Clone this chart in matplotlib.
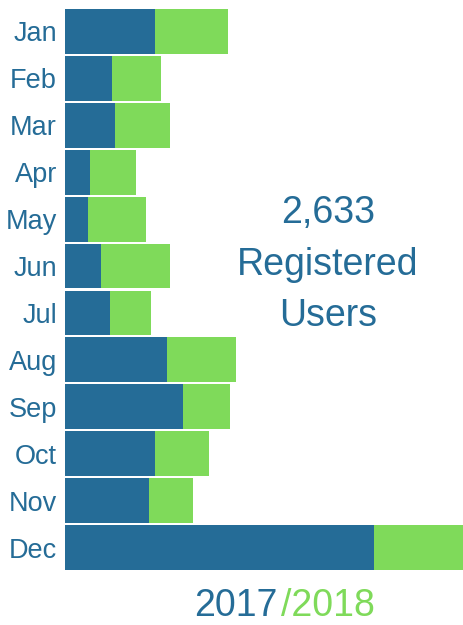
import matplotlib as mpl
mpl.use('Agg')
import matplotlib.pyplot as plt

# registered users per month
months = ['Jan', 'Feb', 'Mar', 'Apr', 'May', 'Jun',
          'Jul', 'Aug', 'Sep', 'Oct', 'Nov', 'Dec']
users_2017 = [139, 72, 77, 38, 35, 55, 69, 156, 182, 138, 129, 475]
users_2018 = [112, 75, 84, 71, 89, 107, 63, 106, 72, 84, 67, 138]

blue = '#256c97'
green = '#7fda5a'
font = ['Liberation Sans', 'DejaVu Sans']

W, H = 464, 625
fig = plt.figure(figsize=(W / 100, H / 100), dpi=100)
# axes spans the bar area in pixels: x 65..464, y 9..570
ax = fig.add_axes([65 / W, 1 - 570 / H, (464 - 65) / W, (570 - 9) / H])

bar_h = 0.955
ypos = list(range(len(months)))
ax.barh(ypos, users_2017, height=bar_h, color=blue, linewidth=0)
ax.barh(ypos, users_2018, left=users_2017, height=bar_h, color=green,
        linewidth=0)

ax.set_xlim(0, 613)
ax.set_ylim(len(months) - 1 + bar_h / 2, -bar_h / 2)
ax.axis('off')

for y, m in zip(ypos, months):
    ax.annotate(m, (0, y), xytext=(-8, -3), textcoords='offset pixels',
                ha='right', va='center', fontsize=19.5, color=blue,
                family=font, annotation_clip=False)

total = sum(users_2017) + sum(users_2018)
for txt, ypix in [(f'{total:,}', 213), ('Registered', 265), ('Users', 316)]:
    fig.text(328 / W, 1 - ypix / H, txt, ha='center', va='center',
             fontsize=27, color=blue, family=font)

# bottom legend-like caption, kept just inside the lower edge
fig.text(278 / W, 1 - 616 / H, '2017', ha='right', va='baseline',
         fontsize=27, color=blue, family=font)
fig.text(281 / W, 1 - 616 / H, '/2018', ha='left', va='baseline',
         fontsize=27, color=green, family=font)

fig.savefig('out.png', dpi=100)
